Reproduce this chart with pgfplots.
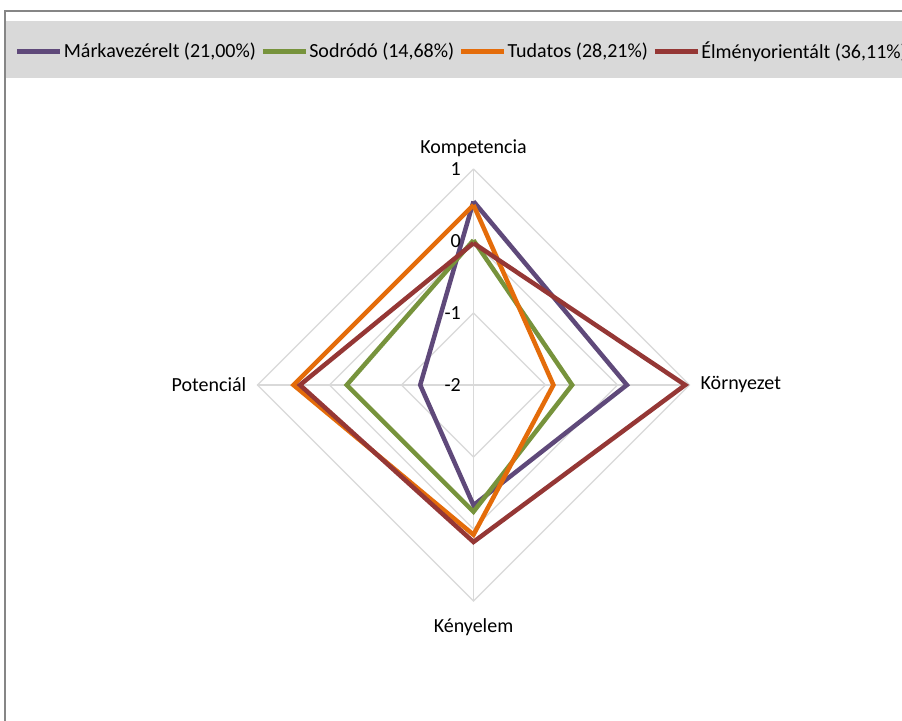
\documentclass[border=0pt]{standalone}
\usepackage{fontspec}
\setmainfont{Carlito}
\usepackage{pgfplots}
\usepackage{pgfplotstable}
\pgfplotsset{compat=1.18}
\definecolor{cMark}{HTML}{5F497A}
\definecolor{cSod}{HTML}{77933C}
\definecolor{cTud}{HTML}{E46C0A}
\definecolor{cElm}{HTML}{953735}
\definecolor{cGrid}{HTML}{D9D9D9}
\definecolor{cBand}{HTML}{D9D9D9}
\definecolor{cFrame}{HTML}{868686}
% angle (deg) and value for each dimension; radar centre = -2
\pgfplotstableread{
angle mark sod tud elm
90 0.55 0.01 0.50 -0.03
0 0.13 -0.63 -0.89 0.94
270 -0.33 -0.24 0.08 0.18
180 -1.26 -0.24 0.50 0.41
90 0.55 0.01 0.50 -0.03
}\radardata
\begin{document}
\fontsize{10pt}{12pt}\selectfont
\begin{tikzpicture}
\useasboundingbox (0,0) rectangle (451pt,360pt);
% frame and legend band (1px = 0.5pt)
\fill[white] (0,0) rectangle (451pt,360pt);
\fill[cBand] (2.5pt,{(720-78)*0.5pt}) rectangle (460pt,{(720-21)*0.5pt});
\draw[cFrame, line width=0.8pt] (2.5pt,-5pt) -- (2.5pt,{(720-11)*0.5pt}) -- (460pt,{(720-11)*0.5pt});
\begin{axis}[
  scale only axis, width=451pt, height=360pt,
  at={(0,0)}, anchor=south west,
  xmin=-6.576, xmax=5.951, ymin=-4.653, ymax=5.347,
  hide axis, clip=false,
  legend style={at={(axis cs:-6.37,4.63)}, anchor=west, draw=none, fill=none,
    inner sep=0pt, font=\fontsize{10pt}{12pt}\selectfont,
    nodes={inner sep=0.6pt}, cells={anchor=west},
    /tikz/every even column/.append style={column sep=1.8pt}},
  legend columns=-1,
  legend image code/.code={\draw[line width=2.2pt,#1] (0pt,0pt) -- (21.5pt,0pt);},
]
% grid
\addplot[cGrid, line width=0.6pt, forget plot] coordinates {(0,3) (3,0) (0,-3) (-3,0) (0,3)};
\addplot[cGrid, line width=0.6pt, forget plot] coordinates {(0,2) (2,0) (0,-2) (-2,0) (0,2)};
\addplot[cGrid, line width=0.6pt, forget plot] coordinates {(0,1) (1,0) (0,-1) (-1,0) (0,1)};
\addplot[cGrid, line width=0.6pt, forget plot] coordinates {(0,3) (0,-3)};
\addplot[cGrid, line width=0.6pt, forget plot] coordinates {(-3,0) (3,0)};
% series
\addplot[cMark, line width=2.25pt] table[x expr={(\thisrow{mark}+2)*cos(\thisrow{angle})}, y expr={(\thisrow{mark}+2)*sin(\thisrow{angle})}] {\radardata};
\addlegendentry{Márkavezérelt (21,00\%)}
\addplot[cSod, line width=2.25pt] table[x expr={(\thisrow{sod}+2)*cos(\thisrow{angle})}, y expr={(\thisrow{sod}+2)*sin(\thisrow{angle})}] {\radardata};
\addlegendentry{Sodródó (14,68\%)}
\addplot[cTud, line width=2.25pt] table[x expr={(\thisrow{tud}+2)*cos(\thisrow{angle})}, y expr={(\thisrow{tud}+2)*sin(\thisrow{angle})}] {\radardata};
\addlegendentry{Tudatos (28,21\%)}
\addplot[cElm, line width=2.25pt] table[x expr={(\thisrow{elm}+2)*cos(\thisrow{angle})}, y expr={(\thisrow{elm}+2)*sin(\thisrow{angle})}] {\radardata};
\addlegendentry{Élményorientált (36,11\%)}
% value labels
\node[anchor=east, inner sep=0pt] at (axis cs:-0.17,3) {1};
\node[anchor=east, inner sep=0pt] at (axis cs:-0.17,2) {0};
\node[anchor=east, inner sep=0pt] at (axis cs:-0.17,1) {-1};
\node[anchor=east, inner sep=0pt] at (axis cs:-0.17,0) {-2};
% category labels
\node at (axis cs:0,3.29) {Kompetencia};
\node[anchor=west, inner sep=0pt] at (axis cs:3.15,0) {Környezet};
\node at (axis cs:0,-3.36) {Kényelem};
\node[anchor=east, inner sep=0pt] at (axis cs:-3.15,0) {Potenciál};
\end{axis}
\end{tikzpicture}
\end{document}
